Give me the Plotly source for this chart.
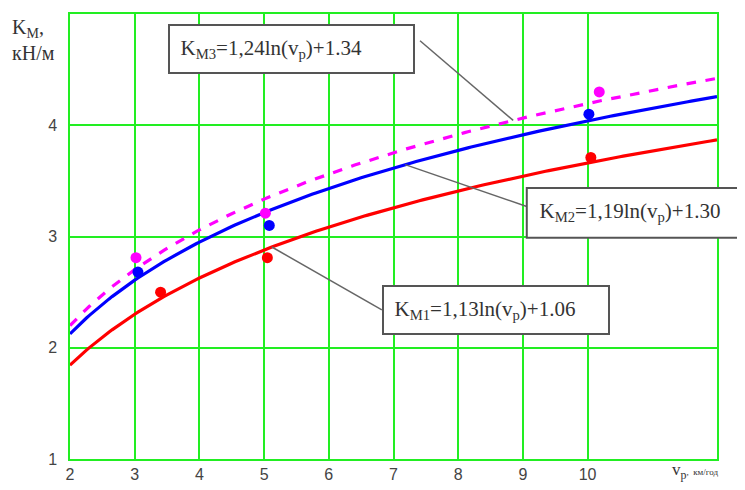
import numpy as np
import plotly.graph_objects as go

# ---- data ----
series_names = ["KM1", "KM2", "KM3"]
coef_a = [1.13, 1.19, 1.24]          # K = a*ln(v) + b
coef_b = [1.06, 1.30, 1.34]
colors = ["#ff0000", "#0000ff", "#ff00ff"]
dashes = ["solid", "solid", "dash"]

pts_x_m1 = [3.4, 5.05, 10.05]
pts_y_m1 = [2.50, 2.81, 3.71]
pts_x_m2 = [3.05, 5.08, 10.02]
pts_y_m2 = [2.68, 3.10, 4.10]
pts_x_m3 = [3.02, 5.02, 10.18]
pts_y_m3 = [2.81, 3.21, 4.30]
pts_x = [pts_x_m1, pts_x_m2, pts_x_m3]
pts_y = [pts_y_m1, pts_y_m2, pts_y_m3]

x_ticks = [2, 3, 4, 5, 6, 7, 8, 9, 10]
y_ticks = [1, 2, 3, 4]
labels = [
    "K<sub>M1</sub>=1,13ln(v<sub>p</sub>)+1.06",
    "K<sub>M2</sub>=1,19ln(v<sub>p</sub>)+1.30",
    "K<sub>M3</sub>=1,24ln(v<sub>p</sub>)+1.34",
]

v = np.linspace(2, 12, 201)

fig = go.Figure()
for i in range(3):
    k = coef_a[i] * np.log(v) + coef_b[i]
    fig.add_trace(go.Scatter(x=v, y=k, mode="lines",
                             line=dict(color=colors[i], width=3.2, dash=dashes[i]),
                             showlegend=False, hoverinfo="skip"))
for i in range(3):
    fig.add_trace(go.Scatter(x=pts_x[i], y=pts_y[i], mode="markers",
                             marker=dict(color=colors[i], size=11),
                             showlegend=False))

def K(i, x):
    return coef_a[i] * np.log(x) + coef_b[i]

# leader lines: (curve point) -> (box edge)
leaders = [
    (0, 5.12, 6.82, 2.34),
    (1, 7.18, 9.06, 3.27),
    (2, 8.85, 7.41, 4.76),
]
for i, xc, xb, yb in leaders:
    fig.add_shape(type="line", x0=xc, y0=float(K(i, xc)), x1=xb, y1=yb,
                  xref="x", yref="y", line=dict(color="#666666", width=1.5))

# box for KM2 running off the right edge
fig.add_shape(type="rect", xref="paper", yref="paper",
              x0=0.706, x1=1.08, y0=0.497, y1=0.609, layer="above",
              fillcolor="white", line=dict(color="#555555", width=2))

# label boxes
boxes = [
    (0, 8.58, 2.34, 224, 2),
    (1, 10.95, 3.216, 240, 0),
    (2, 5.42, 4.685, 243, 2),
]
pad = "&nbsp;&nbsp;"
for i, bx, by, w, bw in boxes:
    fig.add_annotation(x=bx, y=by, xref="x", yref="y", text=pad + labels[i],
                       showarrow=False, width=w, height=46, align="left",
                       bgcolor="white" if bw else "rgba(0,0,0,0)",
                       bordercolor="#555555", borderwidth=bw,
                       borderpad=0,
                       font=dict(family="Liberation Serif", size=21, color="#333333"))

# axis titles
fig.add_annotation(xref="paper", yref="paper", x=-0.093, y=1.0,
                   xanchor="left", yanchor="top", align="left",
                   text="K<sub>M</sub>,<br>кН/м", showarrow=False,
                   font=dict(family="Liberation Serif", size=20, color="#333333"))
fig.add_annotation(xref="paper", yref="paper", x=1.005, y=-0.026,
                   xanchor="right", yanchor="middle",
                   text="v<sub>p</sub><span style='font-size:9px'>,  км/год</span>",
                   showarrow=False,
                   font=dict(family="Liberation Serif", size=17, color="#333333"))

fig.update_xaxes(range=[2, 12], tickvals=x_ticks, showgrid=True, automargin=False,
                 gridcolor="#22ee22", gridwidth=1.5, showline=True, mirror=True,
                 linecolor="#22ee22", linewidth=1.5, zeroline=False,
                 ticks="", tickfont=dict(family="Liberation Sans", size=16, color="#444444"))
fig.update_yaxes(range=[1, 5], tickvals=y_ticks, showgrid=True, automargin=False,
                 gridcolor="#22ee22", gridwidth=1.5, showline=True, mirror=True,
                 linecolor="#22ee22", linewidth=1.5, zeroline=False,
                 ticks="", ticklabelstandoff=8,
                 tickfont=dict(family="Liberation Sans", size=16, color="#444444"))

fig.update_layout(width=737, height=482, plot_bgcolor="white", paper_bgcolor="white",
                  margin=dict(l=62, r=28, t=6, b=31, autoexpand=False))
fig.write_html("out.html")
